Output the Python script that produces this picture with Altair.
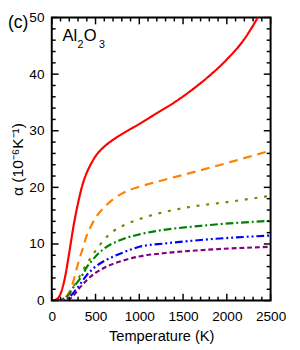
import altair as alt
import pandas as pd

# ---- data ----
series_names = ["s1", "s2", "s3", "s4", "s5", "s6"]
series_colors = ["#ff0000", "#ff8000", "#808000", "#008000", "#0000ff", "#800080"]
series_dash = [[1, 0], [9, 6], [3, 7], [8, 3, 2, 3], [8, 3, 2, 3, 2, 3], [5, 3]]

red_T = [0, 50, 100, 150, 200, 250, 300, 350, 400, 450, 500, 600, 700, 800, 1000, 1200, 1400, 1600, 1800, 2000, 2200, 2300, 2400, 2500]
red_a = [0, 0.2, 1.2, 4.0, 8.5, 13.3, 17.2, 20.4, 22.6, 24.2, 25.5, 27.2, 28.4, 29.4, 31.2, 33.1, 35.0, 37.2, 39.7, 42.6, 46.2, 48.6, 51.3, 54.2]

orange_T = [0, 100, 150, 200, 250, 300, 350, 400, 450, 500, 600, 700, 800, 900, 1000, 1200, 1500, 2000, 2500]
orange_a = [0, 0.1, 0.5, 1.5, 3.6, 6.5, 9.0, 11.5, 13.2, 14.6, 16.5, 17.9, 18.9, 19.6, 20.1, 21.0, 22.2, 24.3, 26.5]

olive_T = [0, 150, 200, 250, 300, 350, 400, 500, 600, 700, 850, 1000, 1100, 1300, 1600, 2000, 2500]
olive_a = [0, 0.3, 1.0, 2.5, 3.8, 5.2, 6.5, 8.8, 10.8, 12.2, 13.5, 14.4, 14.9, 15.7, 16.6, 17.4, 18.5]

green_T = [0, 150, 200, 250, 300, 350, 400, 450, 500, 600, 800, 1000, 1200, 1700, 2500]
green_a = [0, 0.4, 1.2, 2.4, 3.4, 4.5, 5.9, 6.9, 7.8, 9.2, 10.8, 11.7, 12.3, 13.2, 14.1]

blue_T = [0, 150, 200, 300, 400, 500, 600, 800, 1000, 1300, 1700, 2500]
blue_a = [0, 0.1, 0.6, 2.4, 4.5, 6.0, 7.0, 8.4, 9.5, 10.1, 10.7, 11.5]

purple_T = [0, 200, 250, 300, 400, 500, 600, 800, 1000, 1300, 1700, 2500]
purple_a = [0, 0.3, 0.9, 1.9, 3.6, 4.9, 5.8, 7.0, 7.8, 8.4, 8.9, 9.5]

x_major = [0, 500, 1000, 1500, 2000, 2500]
x_minor = [t for t in range(0, 2501, 100) if t % 500 != 0]
y_major = [0, 10, 20, 30, 40, 50]
y_minor = [v for v in range(0, 51, 2) if v % 10 != 0]

W, H = 225, 291
MAJ, MIN = 7, 4

# ---- build table ----
rows = []
for name, Ts, As in zip(series_names,
                        [red_T, orange_T, olive_T, green_T, blue_T, purple_T],
                        [red_a, orange_a, olive_a, green_a, blue_a, purple_a]):
    for t, a in zip(Ts, As):
        rows.append({"T": t, "a": a, "s": name})
df = pd.DataFrame(rows)

xscale = alt.Scale(domain=[0, 2500], nice=False, zero=False)
yscale = alt.Scale(domain=[0, 50], nice=False, zero=False)

base_font = "Liberation Sans"

layers = []
for name, col, dash in zip(series_names, series_colors, series_dash):
    layers.append(
        alt.Chart(df[df.s == name]).mark_line(
            color=col, strokeWidth=2.2, strokeDash=dash, clip=True, interpolate="monotone"
        ).encode(
            x=alt.X("T:Q", scale=xscale,
                    axis=alt.Axis(values=x_major, format="d", title="Temperature (K)", domain=False,
                                  ticks=False, grid=False, labelFontSize=14, labelPadding=9,
                                  labelColor="black", labelFont=base_font, titleFont=base_font,
                                  titleFontSize=15, titleFontWeight="normal", titleColor="black",
                                  titlePadding=6, labelFlush=False)),
            y=alt.Y("a:Q", scale=yscale,
                    axis=alt.Axis(values=y_major, format="d", title="α (10⁻⁶K⁻¹)", domain=False,
                                  ticks=False, grid=False, labelFontSize=14, labelPadding=8,
                                  labelColor="black", labelFont=base_font, titleFont=base_font,
                                  titleFontSize=16, titleFontWeight="normal", titleColor="black",
                                  titleX=-35, titleY=H / 2, titleBaseline="middle",
                                  labelFlush=False)),
        )
    )

def xticks(vals, length):
    d = pd.DataFrame({"T": vals})
    bot = alt.Chart(d).mark_rule(color="black", strokeWidth=1.5).encode(
        x=alt.X("T:Q", scale=xscale), y=alt.value(H), y2=alt.value(H - length))
    top = alt.Chart(d).mark_rule(color="black", strokeWidth=1.5).encode(
        x=alt.X("T:Q", scale=xscale), y=alt.value(0), y2=alt.value(length))
    return [bot, top]

def yticks(vals, length):
    d = pd.DataFrame({"a": vals})
    left = alt.Chart(d).mark_rule(color="black", strokeWidth=1.5).encode(
        y=alt.Y("a:Q", scale=yscale), x=alt.value(0), x2=alt.value(length))
    right = alt.Chart(d).mark_rule(color="black", strokeWidth=1.5).encode(
        y=alt.Y("a:Q", scale=yscale), x=alt.value(W), x2=alt.value(W - length))
    return [left, right]

tick_layers = xticks(x_major, MAJ) + xticks(x_minor, MIN) + yticks(y_major, MAJ) + yticks(y_minor, MIN)

# text labels: (text, x px, y px, size)
label_text = ["Al", "2", "O", "3", "(c)"]
label_x = [11, 26.5, 33, 48.5, -45]
label_y = [24, 31.5, 24, 31.5, 11]
label_size = [17, 11, 17, 11, 18]

text_layers = []
for t, xx, yy, sz in zip(label_text, label_x, label_y, label_size):
    text_layers.append(
        alt.Chart(pd.DataFrame({"t": [t]})).mark_text(
            align="left", baseline="alphabetic", fontSize=sz, font=base_font, color="black"
        ).encode(text="t:N", x=alt.value(xx), y=alt.value(yy))
    )

chart = alt.layer(*layers, *tick_layers, *text_layers).properties(
    width=W, height=H,
    autosize=alt.AutoSizeParams(type="none"),
    padding={"left": 45, "top": 5, "right": 22, "bottom": 46},
).configure_view(stroke="black", strokeWidth=2)

chart.save("out.html", embed_options={"renderer": "svg", "actions": False})
